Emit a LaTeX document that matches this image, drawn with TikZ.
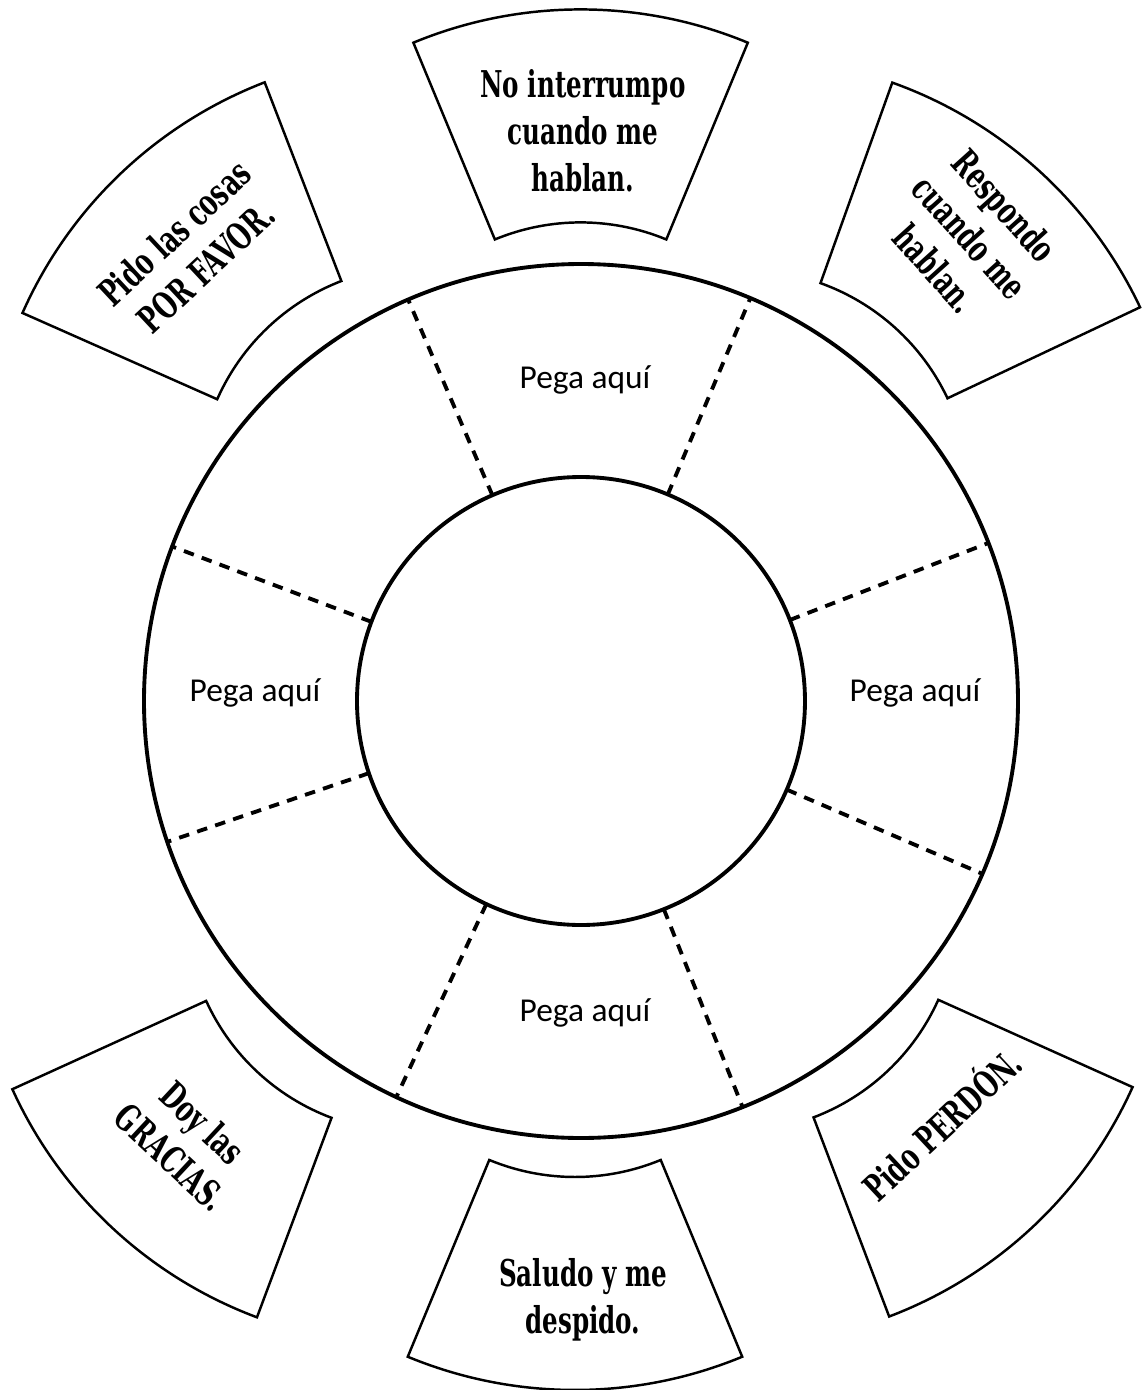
\documentclass[tikz,border=0pt]{standalone}
\usepackage{fontspec}
\newfontfamily\tabfont[FakeStretch=0.74]{DejaVu Serif Condensed Bold}
\newfontfamily\pegafont{Carlito}

\begin{document}
\begin{tikzpicture}[x=0.01cm,y=0.01cm,
   ringline/.style={line width=1.1pt},
   cutline/.style={line width=1.1pt,dash pattern=on 3pt off 2.4pt},
   tabline/.style={line width=0.7pt},
   tabtext/.style={font=\tabfont\fontsize{10.5}{13.3}\selectfont,align=center,inner sep=0pt},
   pegatext/.style={font=\pegafont\fontsize{9.5}{11}\selectfont,inner sep=0pt}]
 %page frame
  \useasboundingbox (-581,-689) rectangle (564,701);
 %the wheel
  %draw rings
    \draw[ringline] (0,0) circle [radius=437];
    \draw[ringline] (0,0) circle [radius=224];
  %draw cut lines
    \foreach \a in {21.2,67.2,113.3,159.3,198.8,245,291.7,336.7}
       \draw[cutline] (\a:224) -- (\a:437);
  %glue labels
    \node[pegatext] (p1) at (4,321) {Pega aquí};
    \node[pegatext] (p2) at (-326,8) {Pega aquí};
    \node[pegatext] (p3) at (334,8) {Pega aquí};
    \node[pegatext] (p4) at (4,-312) {Pega aquí};
 %the cut-out pieces
  %draw pieces
    \foreach \cx/\cy/\a in {-0.4/254.6/90, -159/211/133.6, 164/207/47.8, -171/-207/227, -6/-252/270, 153/-207/313.3}
       \draw[tabline,shift={(\cx,\cy)}] (\a-22.5:224) -- (\a-22.5:437)
          arc[start angle=\a-22.5,end angle=\a+22.5,radius=437] -- (\a+22.5:224)
          arc[start angle=\a+22.5,end angle=\a-22.5,radius=224] -- cycle;
  %texts
    \node[tabtext] (t1) at (2,570) {No interrumpo\\cuando me\\hablan.};
    \node[tabtext,rotate=43] (t2) at (-391,451) {Pido las cosas\\POR FAVOR.};
    \node[tabtext,rotate=-48] (t3) at (389,464) {Respondo\\cuando me\\hablan.};
    \node[tabtext,rotate=-43] (t4) at (-394,-439) {Doy las\\GRACIAS.};
    \node[tabtext] (t5) at (2,-599) {Saludo y me\\despido.};
    \node[tabtext,rotate=43] (t6) at (359,-422) {Pido PERDÓN.};
\end{tikzpicture}
\end{document}
